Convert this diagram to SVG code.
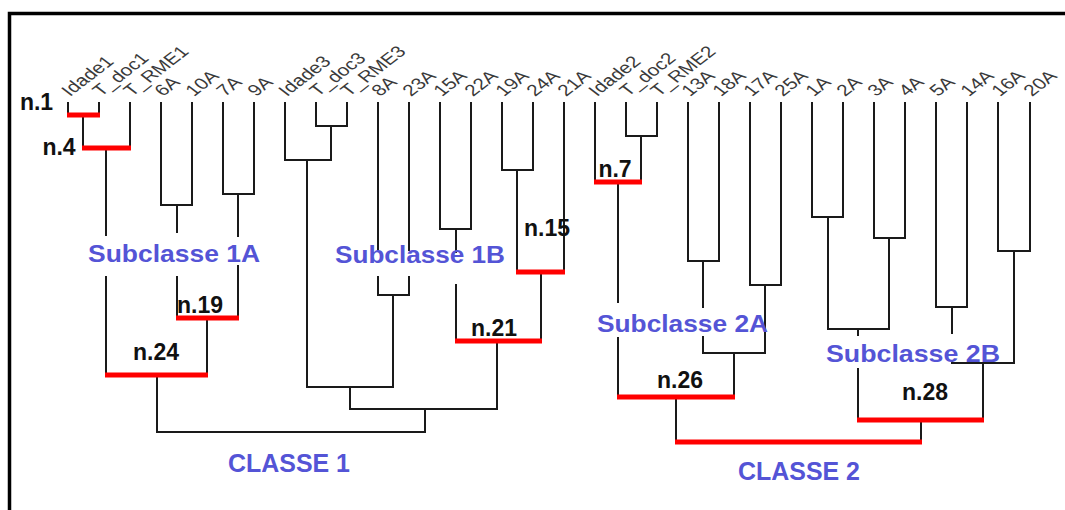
<svg xmlns="http://www.w3.org/2000/svg" width="1065" height="510" viewBox="0 0 1065 510">
<style>
.ln{fill:none;stroke:#1a1a1a;stroke-width:2;stroke-linecap:square}
.hl{fill:none;stroke:#ff0000;stroke-width:5}
.lf{font-family:"Liberation Sans",Arial,sans-serif;font-size:16px;fill:#3a3a3a}
.nl{font-family:"Liberation Sans",Arial,sans-serif;font-size:23px;font-weight:bold;fill:#111;text-anchor:middle}
.sc{font-family:"Liberation Sans",Arial,sans-serif;font-size:24px;font-weight:bold;fill:#5454d6}
.cl{font-family:"Liberation Sans",Arial,sans-serif;font-size:26px;font-weight:bold;fill:#5454d6}
</style>
<rect width="1065" height="510" fill="#fff"/>
<path d="M9.5 510 V13.5 H1065" fill="none" stroke="#000" stroke-width="3.5"/>
<g id="leaves">
<g id="leaf-Idade1"><text class="lf" transform="translate(70,97) scale(1.3,1) rotate(-45)">Idade1</text></g>
<g id="leaf-T_doc1"><text class="lf" transform="translate(101,97) scale(1.3,1) rotate(-45)">T_doc1</text></g>
<g id="leaf-T_RME1"><text class="lf" transform="translate(132,97) scale(1.3,1) rotate(-45)">T_RME1</text></g>
<g id="leaf-6A"><text class="lf" transform="translate(163,97) scale(1.3,1) rotate(-45)">6A</text></g>
<g id="leaf-10A"><text class="lf" transform="translate(194,97) scale(1.3,1) rotate(-45)">10A</text></g>
<g id="leaf-7A"><text class="lf" transform="translate(225,97) scale(1.3,1) rotate(-45)">7A</text></g>
<g id="leaf-9A"><text class="lf" transform="translate(256,97) scale(1.3,1) rotate(-45)">9A</text></g>
<g id="leaf-Idade3"><text class="lf" transform="translate(287,97) scale(1.3,1) rotate(-45)">Idade3</text></g>
<g id="leaf-T_doc3"><text class="lf" transform="translate(318,97) scale(1.3,1) rotate(-45)">T_doc3</text></g>
<g id="leaf-T_RME3"><text class="lf" transform="translate(349,97) scale(1.3,1) rotate(-45)">T_RME3</text></g>
<g id="leaf-8A"><text class="lf" transform="translate(380,97) scale(1.3,1) rotate(-45)">8A</text></g>
<g id="leaf-23A"><text class="lf" transform="translate(411,97) scale(1.3,1) rotate(-45)">23A</text></g>
<g id="leaf-15A"><text class="lf" transform="translate(442,97) scale(1.3,1) rotate(-45)">15A</text></g>
<g id="leaf-22A"><text class="lf" transform="translate(473,97) scale(1.3,1) rotate(-45)">22A</text></g>
<g id="leaf-19A"><text class="lf" transform="translate(504,97) scale(1.3,1) rotate(-45)">19A</text></g>
<g id="leaf-24A"><text class="lf" transform="translate(535,97) scale(1.3,1) rotate(-45)">24A</text></g>
<g id="leaf-21A"><text class="lf" transform="translate(566,97) scale(1.3,1) rotate(-45)">21A</text></g>
<g id="leaf-Idade2"><text class="lf" transform="translate(597,97) scale(1.3,1) rotate(-45)">Idade2</text></g>
<g id="leaf-T_doc2"><text class="lf" transform="translate(628,97) scale(1.3,1) rotate(-45)">T_doc2</text></g>
<g id="leaf-T_RME2"><text class="lf" transform="translate(659,97) scale(1.3,1) rotate(-45)">T_RME2</text></g>
<g id="leaf-13A"><text class="lf" transform="translate(690,97) scale(1.3,1) rotate(-45)">13A</text></g>
<g id="leaf-18A"><text class="lf" transform="translate(721,97) scale(1.3,1) rotate(-45)">18A</text></g>
<g id="leaf-17A"><text class="lf" transform="translate(752,97) scale(1.3,1) rotate(-45)">17A</text></g>
<g id="leaf-25A"><text class="lf" transform="translate(783,97) scale(1.3,1) rotate(-45)">25A</text></g>
<g id="leaf-1A"><text class="lf" transform="translate(814,97) scale(1.3,1) rotate(-45)">1A</text></g>
<g id="leaf-2A"><text class="lf" transform="translate(845,97) scale(1.3,1) rotate(-45)">2A</text></g>
<g id="leaf-3A"><text class="lf" transform="translate(876,97) scale(1.3,1) rotate(-45)">3A</text></g>
<g id="leaf-4A"><text class="lf" transform="translate(907,97) scale(1.3,1) rotate(-45)">4A</text></g>
<g id="leaf-5A"><text class="lf" transform="translate(938,97) scale(1.3,1) rotate(-45)">5A</text></g>
<g id="leaf-14A"><text class="lf" transform="translate(969,97) scale(1.3,1) rotate(-45)">14A</text></g>
<g id="leaf-16A"><text class="lf" transform="translate(1000,97) scale(1.3,1) rotate(-45)">16A</text></g>
<g id="leaf-20A"><text class="lf" transform="translate(1032,97) scale(1.3,1) rotate(-45)">20A</text></g>
</g>
<g id="connectors">
<path class="ln" d="M68 103V115 M99 103V115 M130 103V148 M83 115V148 M106 148V235 M106 277V375"/>
<path class="ln" d="M161 103V205H192V103 M177 205V232 M177 277V318 M223 103V194H254V103 M238 194V236 M238 266V318 M207 318V375 M157 375V432H425V409"/>
<path class="ln" d="M316 103V126H347V103 M331 126V160 M285 103V160H331 M307 160V387H393 M378 103V250 M378 277V295H409V277 M409 250V103 M393 295V387 M350 387V409H497"/>
<path class="ln" d="M440 103V229H471V103 M456 229V252 M456 285V341 M502 103V170H533V103 M517 170V272 M564 103V272 M541 272V341 M497 341V409"/>
<path class="ln" d="M595 103V182 M626 103V136H657V103 M641 136V182 M618 182V302 M618 338V397 M688 103V261H719V103 M703 261V307 M703 337V353H765 M750 103V285H781V103 M765 285V353 M734 353V397 M676 397V442"/>
<path class="ln" d="M812 103V217H843V103 M828 217V329 M874 103V238H905V103 M889 238V329 M828 329H889 M858 329V335 M858 369V420 M936 103V307H967V103 M952 307V333 M952 361V363H1014 M998 103V251H1030V103 M1014 251V363 M983 363V420 M921 420V442"/>
<g id="highlights">
<path class="hl" d="M67 115H100 M82 148H131 M176 318H239 M105 375H208 M516 272H565 M455 341H542 M594 182H642 M617 397H735 M857 420H984 M675 442H922"/>
</g>
</g>
<g id="node-n1"><text class="nl" x="36.5" y="110">n.1</text></g>
<g id="node-n4"><text class="nl" x="59" y="155">n.4</text></g>
<g id="node-n7"><text class="nl" x="615" y="177">n.7</text></g>
<g id="node-n15"><text class="nl" x="547" y="236">n.15</text></g>
<g id="node-n19"><text class="nl" x="200" y="313">n.19</text></g>
<g id="node-n21"><text class="nl" x="494" y="336">n.21</text></g>
<g id="node-n24"><text class="nl" x="156" y="360">n.24</text></g>
<g id="node-n26"><text class="nl" x="680" y="388">n.26</text></g>
<g id="node-n28"><text class="nl" x="925" y="400">n.28</text></g>
<g id="sub-1A"><text class="sc" x="88" y="262" textLength="172" lengthAdjust="spacingAndGlyphs">Subclasse 1A</text></g>
<g id="sub-1B"><text class="sc" x="335" y="263" textLength="170" lengthAdjust="spacingAndGlyphs">Subclasse 1B</text></g>
<g id="sub-2A"><text class="sc" x="597" y="332" textLength="171" lengthAdjust="spacingAndGlyphs">Subclasse 2A</text></g>
<g id="sub-2B"><text class="sc" x="826" y="362" textLength="174" lengthAdjust="spacingAndGlyphs">Subclasse 2B</text></g>
<g id="class-1"><text class="cl" x="228" y="472" textLength="122" lengthAdjust="spacingAndGlyphs">CLASSE 1</text></g>
<g id="class-2"><text class="cl" x="738" y="480" textLength="122" lengthAdjust="spacingAndGlyphs">CLASSE 2</text></g>
</svg>
